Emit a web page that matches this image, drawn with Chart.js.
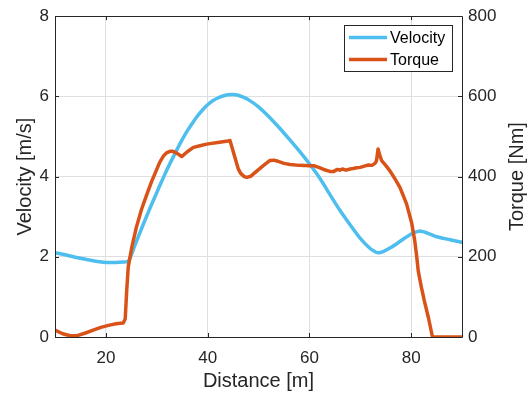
<!DOCTYPE html>
<html>
<head>
<meta charset="utf-8">
<script src="https://cdn.jsdelivr.net/npm/chart.js@4/dist/chart.umd.min.js"></script>
<style>
  html, body { margin: 0; padding: 0; background: #ffffff; }
  #wrap { width: 532px; height: 397px; }
</style>
</head>
<body>
<div id="wrap"><canvas id="c" width="532" height="397"></canvas></div>
<script>
// ---- data ----
const X_TICKS = [20, 40, 60, 80];
const Y_LEFT_TICKS = [0, 2, 4, 6, 8];
const Y_RIGHT_TICKS = [0, 200, 400, 600, 800];

const VEL_DIST = [10,12,14,16,18,20,22,23.5,24.2,24.6,25,26,27,28,29,30,31,32,33,34,35,36,37,38,39,40,41,42,43,44,45,46,47,48,50,52,54,56,58,60,62,64,66,68,70,72,73,73.5,74.5,76,78,80,81.5,83,85,87.5,90];
const VELOCITY = [2.10,2.05,1.99,1.94,1.89,1.86,1.86,1.87,1.88,1.92,2.05,2.38,2.70,3.01,3.31,3.60,3.89,4.17,4.43,4.68,4.92,5.14,5.33,5.51,5.66,5.79,5.89,5.96,6.01,6.04,6.05,6.03,5.98,5.92,5.74,5.50,5.23,4.94,4.64,4.32,3.97,3.56,3.16,2.80,2.46,2.20,2.12,2.10,2.13,2.23,2.40,2.57,2.64,2.60,2.50,2.43,2.36];

const TOR_DIST = [10,11.5,13,14.5,16,17.5,19,20.5,22,23.4,23.8,24.1,24.4,25.1,26,27,28,29,30,30.6,31.3,31.9,32.6,33.2,34,34.9,36,37.2,38.5,39.8,42,44,44.4,45.2,46,46.5,47.2,47.7,48.5,49.6,51,52.2,53,53.6,55,56.2,58,60.1,61,62.1,63,64,64.8,65.5,66,66.5,67.2,68,68.6,69.3,70,70.8,71.6,72.3,72.9,73.2,73.5,73.8,74.2,75,75.8,76.8,77.8,79.1,80.1,80.7,81.1,81.4,82,82.6,83.4,84.2,90];
const TORQUE = [17,8,3,4,10,17,24,29,33,35,45,117,175,224,274,318,354,388,418,436,451,459,463,463,458,450,462,473,477,481,485,489,490,455,420,408,400,398,401,413,428,440,441,439,433,430,428,427,427,422,417,413,413,418,416,419,416,419,420,422,423,426,429,428,433,440,469,455,440,428,415,395,373,332,285,241,200,165,125,90,48,0,0];

const SERIES_NAMES = ['Velocity', 'Torque'];
const X_TITLE = 'Distance [m]';
const Y_LEFT_TITLE = 'Velocity [m/s]';
const Y_RIGHT_TITLE = 'Torque [Nm]';

const toPoints = (xs, ys) => xs.map((x, i) => ({ x: x, y: ys[i] }));

const FONT = '"Liberation Sans", Arial, Helvetica, sans-serif';
const TXT = '#262626';
const VEL_COLOR = '#4DBEEE';
const TOR_COLOR = '#D95319';

Chart.defaults.font.family = FONT;
Chart.defaults.color = TXT;

const decorPlugin = {
  id: 'decor',
  afterDraw(chart) {
    const ctx = chart.ctx;
    const a = chart.chartArea;
    const sx = chart.scales.x, sy = chart.scales.y, sy1 = chart.scales.y1;
    ctx.save();
    // frame
    ctx.strokeStyle = TXT;
    ctx.lineWidth = 1;
    ctx.beginPath();
    ctx.rect(Math.round(a.left) + 0.5, Math.round(a.top) + 0.5,
             Math.round(a.right - a.left), Math.round(a.bottom - a.top));
    ctx.stroke();
    // inward tick marks
    const tl = 4;
    ctx.beginPath();
    X_TICKS.forEach(v => {
      const px = Math.round(sx.getPixelForValue(v)) + 0.5;
      ctx.moveTo(px, a.bottom); ctx.lineTo(px, a.bottom - tl);
      ctx.moveTo(px, a.top); ctx.lineTo(px, a.top + tl);
    });
    Y_LEFT_TICKS.forEach(v => {
      const py = Math.round(sy.getPixelForValue(v)) + 0.5;
      ctx.moveTo(a.left, py); ctx.lineTo(a.left + tl, py);
    });
    Y_RIGHT_TICKS.forEach(v => {
      const py = Math.round(sy1.getPixelForValue(v)) + 0.5;
      ctx.moveTo(a.right, py); ctx.lineTo(a.right - tl, py);
    });
    ctx.stroke();

    // right axis title (reads bottom to top)
    ctx.fillStyle = TXT;
    ctx.font = '20px ' + FONT;
    ctx.textAlign = 'center';
    ctx.textBaseline = 'middle';
    ctx.translate(517, (a.top + a.bottom) / 2);
    ctx.rotate(-Math.PI / 2);
    ctx.fillText(Y_RIGHT_TITLE, 0, 0);
    ctx.setTransform(1, 0, 0, 1, 0, 0);

    // legend box
    const bx = 344.5, by = 25.5, bw = 108, bh = 46;
    ctx.fillStyle = '#ffffff';
    ctx.fillRect(bx, by, bw, bh);
    ctx.strokeStyle = '#262626';
    ctx.lineWidth = 1;
    ctx.strokeRect(bx, by, bw, bh);
    const colors = [VEL_COLOR, TOR_COLOR];
    const rows = [37.5, 59.5];
    ctx.font = '16px ' + FONT;
    ctx.textAlign = 'left';
    ctx.textBaseline = 'middle';
    SERIES_NAMES.forEach((name, i) => {
      ctx.strokeStyle = colors[i];
      ctx.lineWidth = 3.5;
      ctx.beginPath();
      ctx.moveTo(349, rows[i]);
      ctx.lineTo(387, rows[i]);
      ctx.stroke();
      ctx.fillStyle = '#000000';
      ctx.fillText(name, 390, rows[i] + 1);
    });
    ctx.restore();
  }
};

new Chart(document.getElementById('c'), {
  type: 'line',
  data: {
    datasets: [
      {
        label: SERIES_NAMES[0],
        data: toPoints(VEL_DIST, VELOCITY),
        yAxisID: 'y',
        borderColor: VEL_COLOR,
        backgroundColor: VEL_COLOR,
        borderWidth: 3.5,
        pointRadius: 0,
        tension: 0.2,
        borderJoinStyle: 'round',
        borderCapStyle: 'round',
        order: 2
      },
      {
        label: SERIES_NAMES[1],
        data: toPoints(TOR_DIST, TORQUE),
        yAxisID: 'y1',
        borderColor: TOR_COLOR,
        backgroundColor: TOR_COLOR,
        borderWidth: 3.5,
        pointRadius: 0,
        tension: 0,
        borderJoinStyle: 'round',
        borderCapStyle: 'round',
        order: 1
      }
    ]
  },
  options: {
    responsive: false,
    animation: false,
    layout: { padding: { top: 15, left: 0, right: 0, bottom: 0 } },
    plugins: { legend: { display: false }, tooltip: { enabled: false } },
    scales: {
      x: {
        type: 'linear',
        min: 10, max: 90,
        afterBuildTicks: s => { s.ticks = X_TICKS.map(v => ({ value: v })); },
        afterFit: s => { s.height = 60; },
        grid: { color: '#dfdfdf', lineWidth: 1, drawTicks: false },
        border: { display: false },
        ticks: { font: { size: 17 }, color: TXT, padding: 11, maxRotation: 0 },
        title: { display: true, text: X_TITLE, font: { size: 20 }, color: TXT, padding: { top: 0, bottom: 4 } }
      },
      y: {
        type: 'linear',
        position: 'left',
        min: 0, max: 8,
        afterBuildTicks: s => { s.ticks = Y_LEFT_TICKS.map(v => ({ value: v })); },
        afterFit: s => { s.width = 55; },
        grid: { color: '#dfdfdf', lineWidth: 1, drawTicks: false },
        border: { display: false },
        ticks: { font: { size: 17 }, color: TXT, padding: 6 },
        title: { display: true, text: Y_LEFT_TITLE, font: { size: 20 }, color: TXT, padding: { top: 13, bottom: 0 } }
      },
      y1: {
        type: 'linear',
        position: 'right',
        min: 0, max: 800,
        afterBuildTicks: s => { s.ticks = Y_RIGHT_TICKS.map(v => ({ value: v })); },
        afterFit: s => { s.width = 70; },
        grid: { display: false, drawOnChartArea: false, drawTicks: false },
        border: { display: false },
        ticks: { font: { size: 17 }, color: TXT, padding: 6 },
        title: { display: false }
      }
    }
  },
  plugins: [decorPlugin]
});
</script>
</body>
</html>
